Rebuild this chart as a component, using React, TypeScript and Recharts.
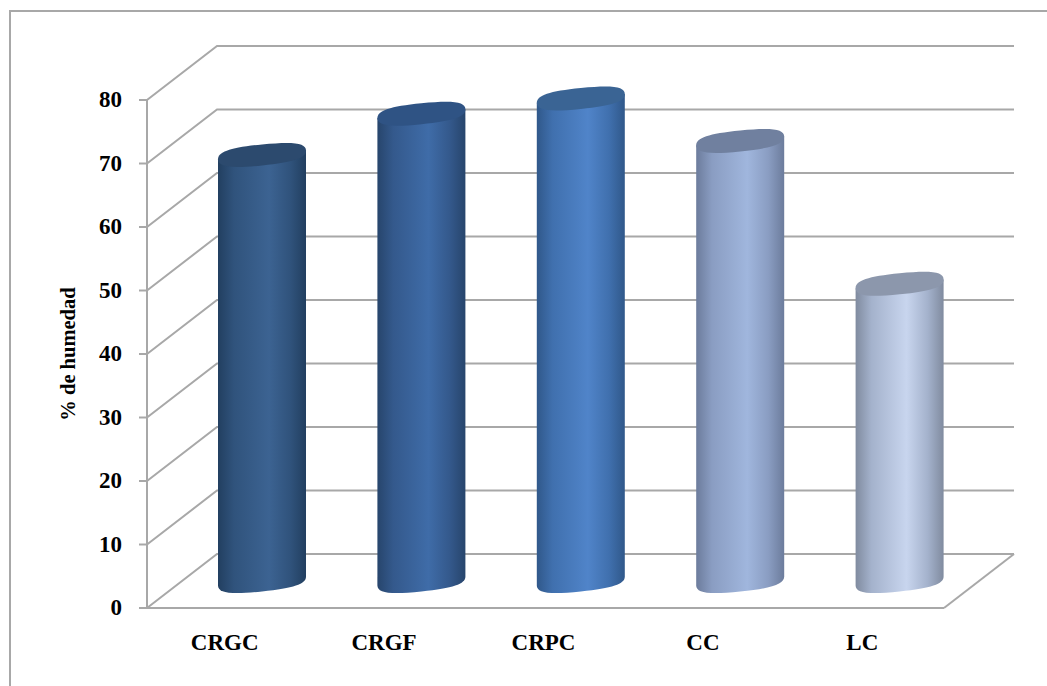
import { BarChart, Bar, XAxis, YAxis, CartesianGrid } from 'recharts';

const categories = ['CRGC', 'CRGF', 'CRPC', 'CC', 'LC'];
const humidity = [67.1, 73.6, 76, 69.3, 46.8];
const yTicks = [0, 10, 20, 30, 40, 50, 60, 70, 80];

// side colour, mid colour, centre colour, lid colour per cylinder
const shades = [
  ['#223f60', '#30537c', '#3c6392', '#2c4a6e'],
  ['#27456c', '#34598c', '#3f6ca8', '#2f5384'],
  ['#30588a', '#4070ae', '#5084c9', '#3a6494'],
  ['#6c7c9c', '#8a9dc2', '#a0b6dd', '#70809f'],
  ['#808b9f', '#a4b2cc', '#c8d5ee', '#8c97ac'],
];

const chartData = categories.map((name, i) => ({ name, value: humidity[i] }));

const SERIF = '"Liberation Serif", serif';
const LINE = '#a8a8a8';

// depth of the fake 3D box
const DEPTH_X = 70;
const DEPTH_Y = -54;
const FLOOR_Y = 608;

function WallLine(props: any) {
  const { x1, x2, y1 } = props;
  const backY = y1 + DEPTH_Y;
  const isFloor = Math.abs(y1 - FLOOR_Y) < 1;
  return (
    <g fill="none" stroke={LINE} strokeWidth={2}>
      <path d={`M${x1},${y1} L${x1 + DEPTH_X},${backY} L${x2 + DEPTH_X},${backY}`} />
      {isFloor && <path d={`M${x2},${y1} L${x2 + DEPTH_X},${backY}`} />}
    </g>
  );
}

function Cylinder(props: any) {
  const { x, y, width, height, index } = props;
  // cylinders stand in the middle of the box depth
  const cx = x + width / 2 + DEPTH_X / 2;
  const top = y + DEPTH_Y / 2;
  const bottom = y + height + DEPTH_Y / 2;
  const a = width / 2;
  const b = 10.5;
  const k = 0.72; // a bit fuller than a true ellipse, so the ends stay round
  const lean = 0.1; // slope of the lid

  // point on a lid centred at (cx, cy), sheared so its sides stay vertical
  const pt = (cy: number, u: number, v: number) => `${cx + u},${cy + v - u * lean}`;

  const lid =
    `M${pt(top, -a, 0)} C${pt(top, -a, -k * b)} ${pt(top, -k * a, -b)} ${pt(top, 0, -b)} ` +
    `C${pt(top, k * a, -b)} ${pt(top, a, -k * b)} ${pt(top, a, 0)} ` +
    `C${pt(top, a, k * b)} ${pt(top, k * a, b)} ${pt(top, 0, b)} ` +
    `C${pt(top, -k * a, b)} ${pt(top, -a, k * b)} ${pt(top, -a, 0)} Z`;

  const body =
    `M${pt(top, -a, 0)} L${pt(bottom, -a, 0)} ` +
    `C${pt(bottom, -a, k * b)} ${pt(bottom, -k * a, b)} ${pt(bottom, 0, b)} ` +
    `C${pt(bottom, k * a, b)} ${pt(bottom, a, k * b)} ${pt(bottom, a, 0)} ` +
    `L${pt(top, a, 0)} Z`;

  return (
    <g>
      <path d={body} fill={`url(#cyl-${index})`} />
      <path d={lid} fill={shades[index][3]} />
    </g>
  );
}

function App() {
  return (
    <div style={{ position: 'absolute', left: 0, top: 0, width: 1047, height: 686, overflow: 'hidden', background: '#fff' }}>
      <div
        style={{
          position: 'absolute',
          left: 9,
          top: 10,
          width: 1100,
          height: 800,
          borderLeft: `2px solid ${LINE}`,
          borderTop: `2px solid ${LINE}`,
        }}
      />
      <div style={{ position: 'absolute', left: 0, top: 0 }}>
        <BarChart
          width={1047}
          height={686}
          data={chartData}
          margin={{ top: 100, right: 103, bottom: 0, left: 0 }}
        >
          <defs>
            {shades.map((s, i) => (
              <linearGradient key={i} id={`cyl-${i}`} x1="0" y1="0" x2="1" y2="0">
                <stop offset="0%" stopColor={s[0]} />
                <stop offset="18%" stopColor={s[1]} />
                <stop offset="58%" stopColor={s[2]} />
                <stop offset="82%" stopColor={s[1]} />
                <stop offset="100%" stopColor={s[0]} />
              </linearGradient>
            ))}
          </defs>
          <CartesianGrid horizontal={WallLine} vertical={false} />
          <XAxis
            dataKey="name"
            height={78}
            tickLine={false}
            axisLine={{ stroke: LINE, strokeWidth: 2 }}
            tickMargin={20}
            dx={-2}
            tick={{ fontFamily: SERIF, fontSize: 23, fontWeight: 700, fill: '#000' }}
          />
          <YAxis
            width={147}
            domain={[0, 80]}
            ticks={yTicks}
            interval={0}
            tickSize={8}
            tickMargin={17}
            dy={-1}
            stroke={LINE}
            strokeWidth={2}
            tick={{ fontFamily: SERIF, fontSize: 23, fontWeight: 700, fill: '#000' }}
            label={{
              value: '% de humedad',
              angle: -90,
              position: 'insideLeft',
              offset: 0,
              dx: 68,
              style: { fontFamily: SERIF, fontSize: 20.5, fontWeight: 700, fill: '#000', textAnchor: 'middle' },
            }}
          />
          <Bar dataKey="value" barSize={88} shape={<Cylinder />} isAnimationActive={false} />
        </BarChart>
      </div>
    </div>
  );
}

export default App;
